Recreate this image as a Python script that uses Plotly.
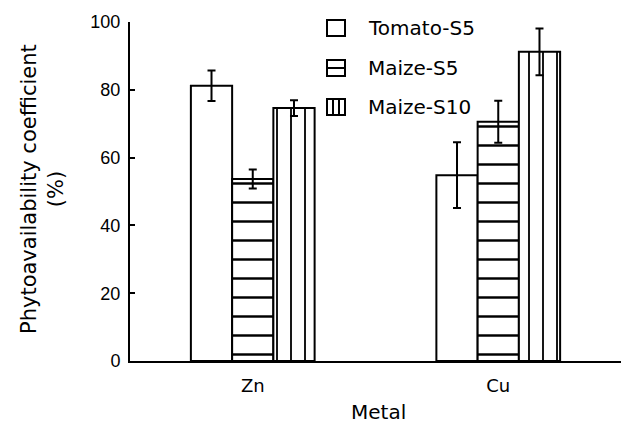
import plotly.graph_objects as go

metals = ["Zn", "Cu"]
series = ["Tomato-S5", "Maize-S5", "Maize-S10"]
values = {
    "Tomato-S5": [81.2, 54.8],
    "Maize-S5": [53.7, 70.6],
    "Maize-S10": [74.6, 91.2],
}
errors = {
    "Tomato-S5": [4.5, 9.7],
    "Maize-S5": [2.8, 6.2],
    "Maize-S10": [2.3, 6.9],
}
patterns = {"Tomato-S5": "", "Maize-S5": "-", "Maize-S10": "|"}
pattern_sizes = {"Tomato-S5": 8, "Maize-S5": 19, "Maize-S10": 14}

W, H = 622, 424
L, R, T, B = 130, 1, 22, 63
PW, PH = W - L - R, H - T - B

def px(x):
    return (x - L) / PW

def py(y):
    return (H - B - y) / PH

dv = "DejaVu Sans, sans-serif"
ar = "Liberation Sans, Arial, sans-serif"

fig = go.Figure()
for s in series:
    fig.add_trace(go.Bar(
        name=s, x=metals, y=values[s],
        marker=dict(
            color="white",
            line=dict(color="black", width=2),
            pattern=dict(shape=patterns[s], size=pattern_sizes[s], solidity=0.13,
                         fgcolor="black", bgcolor="white", fgopacity=1),
        ),
        error_y=dict(type="data", array=errors[s], color="black", thickness=2, width=4),
        showlegend=False,
        hoverinfo="skip",
    ))

shapes = []
annotations = []
# custom legend (boxes drawn like the reference's hatch swatches)
row_y = [28, 68, 107]
bx0, bx1 = 327, 345
for i, s in enumerate(series):
    cy = row_y[i]
    shapes.append(dict(type="rect", xref="paper", yref="paper",
                       x0=px(bx0), x1=px(bx1), y0=py(cy + 8), y1=py(cy - 8),
                       line=dict(color="black", width=2), fillcolor="white"))
    if patterns[s] == "-":
        shapes.append(dict(type="line", xref="paper", yref="paper",
                           x0=px(bx0), x1=px(bx1), y0=py(cy), y1=py(cy),
                           line=dict(color="black", width=2)))
    elif patterns[s] == "|":
        for xv in (bx0 + 6, bx0 + 12):
            shapes.append(dict(type="line", xref="paper", yref="paper",
                               x0=px(xv), x1=px(xv), y0=py(cy + 8), y1=py(cy - 8),
                               line=dict(color="black", width=2)))
    annotations.append(dict(text=s, xref="paper", yref="paper", x=px(366), y=py(cy),
                            xanchor="left", yanchor="middle", showarrow=False,
                            font=dict(family=dv, size=20, color="black")))

# axis titles
annotations.append(dict(text="Metal", xref="paper", yref="paper", x=px(378), y=py(412),
                        xanchor="center", yanchor="middle", showarrow=False, borderpad=0,
                        font=dict(family=dv, size=20, color="black")))
annotations.append(dict(text="Phytoavailability coefficient<br>(%)", xref="paper", yref="paper",
                        x=px(43), y=py(189), xanchor="center", yanchor="middle",
                        textangle=-90, showarrow=False,
                        font=dict(family=dv, size=21, color="black")))

fig.update_layout(
    width=W, height=H,
    margin=dict(l=L, r=R, t=T, b=B),
    barmode="group", bargap=0.496, bargroupgap=0,
    plot_bgcolor="white", paper_bgcolor="white",
    font=dict(family=dv, size=18, color="black"),
    showlegend=False,
    shapes=shapes, annotations=annotations,
)
fig.update_xaxes(
    showline=True, linecolor="black", linewidth=2, ticks="",
    automargin=False, ticklabelstandoff=7,
    tickfont=dict(family=dv, size=18),
)
fig.update_yaxes(
    range=[0, 100], dtick=20, showline=True, linecolor="black", linewidth=2,
    ticks="inside", ticklen=5, tickwidth=2, tickcolor="black",
    showgrid=False, zeroline=False, automargin=False, ticklabelstandoff=4,
    tickfont=dict(family=ar, size=18),
)
fig.write_html("out.html", config={"displayModeBar": False},
               post_script="document.body.style.margin='0';")
